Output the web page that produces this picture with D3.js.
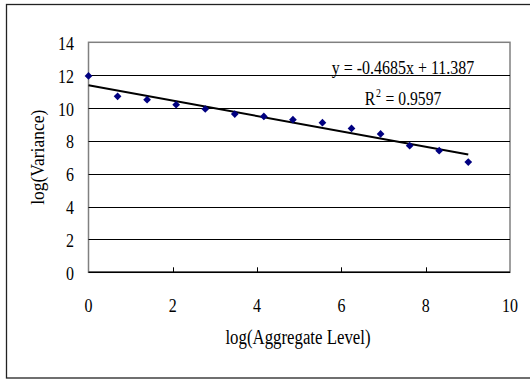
<!DOCTYPE html>
<html>
<head>
<meta charset="utf-8">
<script src="https://cdn.jsdelivr.net/npm/d3@7"></script>
<style>
  body { margin: 0; background: #fff; }
  svg { display: block; }
  text { font-family: 'Liberation Serif', 'Times New Roman', serif; fill: #000; }
</style>
</head>
<body>
<div id="chart"></div>
<script>
// values
const aggLevel = [0, 0.69, 1.39, 2.08, 2.77, 3.47, 4.16, 4.85, 5.55, 6.24, 6.93, 7.62, 8.32, 9.01];
const logVariance = [11.95, 10.71, 10.51, 10.20, 9.94, 9.63, 9.49, 9.29, 9.11, 8.76, 8.42, 7.71, 7.40, 6.71];
const trendSlope = -0.4685;
const trendIntercept = 11.387;
const rSquared = '0.9597';
const xTicks = [0, 2, 4, 6, 8, 10];
const yTicks = [0, 2, 4, 6, 8, 10, 12, 14];

const width = 530;
const height = 379;
const plot = { left: 88.5, right: 510, top: 42.3, bottom: 272.3 };

const svg = d3.select('#chart')
  .append('svg')
  .attr('width', width)
  .attr('height', height);

// outer chart frame
svg.append('rect')
  .attr('x', 6.5)
  .attr('y', 4.5)
  .attr('width', 560)
  .attr('height', 373.5)
  .attr('fill', '#fff')
  .attr('stroke', '#222')
  .attr('stroke-width', 1.3);

const x = d3.scaleLinear().domain([0, 10]).range([plot.left, plot.right]);
const y = d3.scaleLinear().domain([0, 14]).range([plot.bottom, plot.top]);

// squeeze text horizontally, the source font is narrow
function squeeze(sel, k) {
  sel.each(function() {
    const w = this.getComputedTextLength();
    d3.select(this).attr('textLength', w * k).attr('lengthAdjust', 'spacingAndGlyphs');
  });
}

// plot frame (top / right / left in grey)
svg.append('rect')
  .attr('x', plot.left)
  .attr('y', plot.top)
  .attr('width', plot.right - plot.left)
  .attr('height', plot.bottom - plot.top)
  .attr('fill', 'none')
  .attr('stroke', '#808080')
  .attr('stroke-width', 1.5);

// horizontal gridlines
svg.append('g')
  .selectAll('line')
  .data(yTicks.filter(d => d > 0 && d < 14))
  .enter().append('line')
  .attr('x1', plot.left)
  .attr('x2', plot.right)
  .attr('y1', d => Math.round(y(d)) + 0.5)
  .attr('y2', d => Math.round(y(d)) + 0.5)
  .attr('stroke', '#000')
  .attr('stroke-width', 1);

// x axis line + inner ticks
svg.append('line')
  .attr('x1', plot.left)
  .attr('x2', plot.right)
  .attr('y1', plot.bottom)
  .attr('y2', plot.bottom)
  .attr('stroke', '#000')
  .attr('stroke-width', 1.6);

svg.append('g')
  .selectAll('line')
  .data(xTicks.filter(d => d > 0 && d < 10))
  .enter().append('line')
  .attr('x1', d => Math.round(x(d)) + 0.5)
  .attr('x2', d => Math.round(x(d)) + 0.5)
  .attr('y1', plot.bottom)
  .attr('y2', plot.bottom - 5)
  .attr('stroke', '#000')
  .attr('stroke-width', 1);

// tick labels
svg.append('g')
  .selectAll('text')
  .data(xTicks)
  .enter().append('text')
  .attr('x', d => x(d))
  .attr('y', 312)
  .attr('text-anchor', 'middle')
  .attr('font-size', 19)
  .text(d => d)
  .call(squeeze, 0.84);

svg.append('g')
  .selectAll('text')
  .data(yTicks)
  .enter().append('text')
  .attr('x', 74)
  .attr('y', d => y(d) + 7.5)
  .attr('text-anchor', 'end')
  .attr('font-size', 19)
  .text(d => d)
  .call(squeeze, 0.84);

// axis titles
svg.append('text')
  .attr('x', 298)
  .attr('y', 344)
  .attr('text-anchor', 'middle')
  .attr('font-size', 20)
  .text('log(Aggregate Level)')
  .call(squeeze, 0.84);

svg.append('text')
  .attr('transform', `translate(44, ${(plot.top + plot.bottom) / 2}) rotate(-90)`)
  .attr('text-anchor', 'middle')
  .attr('font-size', 19)
  .text('log(Variance)')
  .call(squeeze, 0.92);

// linear trendline
const xMax = d3.max(aggLevel);
svg.append('line')
  .attr('x1', x(0))
  .attr('y1', y(trendIntercept))
  .attr('x2', x(xMax))
  .attr('y2', y(trendIntercept + trendSlope * xMax))
  .attr('stroke', '#000')
  .attr('stroke-width', 2);

// points
const points = aggLevel.map((d, i) => ({ x: d, y: logVariance[i] }));
svg.append('g')
  .selectAll('path')
  .data(points)
  .enter().append('path')
  .attr('d', d3.symbol().type(d3.symbolSquare).size(30))
  .attr('transform', d => `translate(${x(d.x)}, ${y(d.y)}) rotate(45)`)
  .attr('fill', '#000080');

// equation labels
svg.append('text')
  .attr('x', 403)
  .attr('y', 73.5)
  .attr('text-anchor', 'middle')
  .attr('font-size', 19)
  .text(`y = ${trendSlope}x + ${trendIntercept}`)
  .call(squeeze, 0.84);

const r2 = svg.append('text')
  .attr('x', 403)
  .attr('y', 105)
  .attr('text-anchor', 'middle')
  .attr('font-size', 19);
r2.append('tspan').text('R');
r2.append('tspan').attr('dx', 1).attr('dy', -8).attr('font-size', 12).text('2');
r2.append('tspan').attr('dx', 1).attr('dy', 8).text(` = ${rSquared}`);
r2.call(squeeze, 0.84);
</script>
</body>
</html>
